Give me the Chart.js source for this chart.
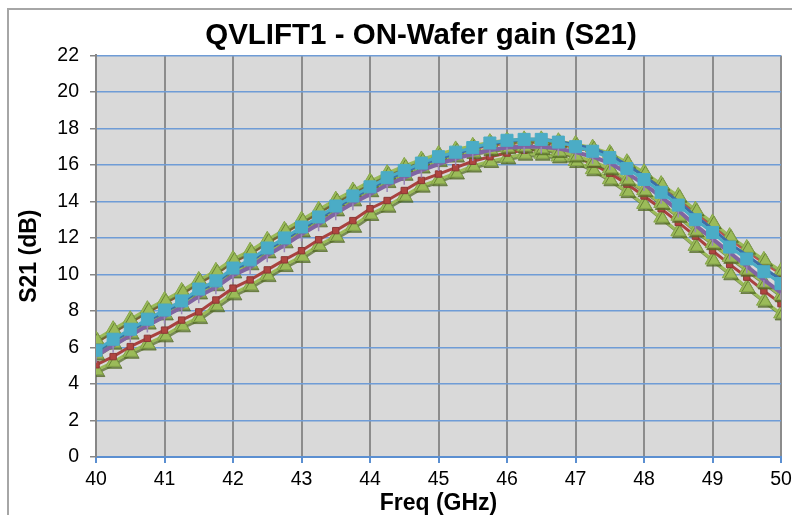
<!DOCTYPE html>
<html>
<head>
<meta charset="utf-8">
<script src="https://cdn.jsdelivr.net/npm/chart.js@4.4.0/dist/chart.umd.min.js"></script>
<style>
  html, body { margin: 0; padding: 0; background: #fff; overflow: hidden; }
  #frame { position: absolute; left: 7px; top: 8px; border: 2px solid #a6a6a6; border-bottom: none; width: 824px; height: 520px; }
  canvas { display: block; }
</style>
</head>
<body>
<div id="frame"><canvas id="gainChart" width="824" height="520" style="width:824px;height:520px"></canvas></div>
<script>
// frequency points (GHz)
const freq = [40, 40.25, 40.5, 40.75, 41, 41.25, 41.5, 41.75, 42, 42.25, 42.5, 42.75, 43, 43.25, 43.5, 43.75,
  44, 44.25, 44.5, 44.75, 45, 45.25, 45.5, 45.75, 46, 46.25, 46.5, 46.75, 47, 47.25, 47.5, 47.75,
  48, 48.25, 48.5, 48.75, 49, 49.25, 49.5, 49.75, 50];

// S21 (dB) per measured die
const cyanSq = [5.85, 6.45, 7.0, 7.55, 8.05, 8.55, 9.2, 9.65, 10.35, 10.8, 11.45, 12.0, 12.6, 13.15, 13.75, 14.3,
  14.8, 15.3, 15.7, 16.1, 16.45, 16.7, 16.95, 17.2, 17.35, 17.4, 17.4, 17.25, 17.0, 16.75, 16.4, 15.8,
  15.2, 14.5, 13.8, 13.0, 12.3, 11.5, 10.85, 10.15, 9.5];
const blueLn = [5.75, 6.35, 6.9, 7.45, 7.95, 8.45, 9.1, 9.55, 10.25, 10.7, 11.35, 11.9, 12.5, 13.05, 13.65, 14.2,
  14.7, 15.2, 15.6, 16.0, 16.35, 16.6, 16.9, 17.15, 17.3, 17.4, 17.4, 17.3, 17.1, 16.9, 16.55, 16.0,
  15.4, 14.7, 14.0, 13.2, 12.5, 11.7, 11.05, 10.35, 9.7];
const purpleLn = [5.55, 6.1, 6.65, 7.2, 7.7, 8.2, 8.8, 9.3, 9.95, 10.4, 11.05, 11.6, 12.2, 12.75, 13.35, 13.9,
  14.4, 14.9, 15.3, 15.7, 16.05, 16.35, 16.6, 16.8, 16.95, 17.0, 17.0, 16.9, 16.7, 16.45, 16.1, 15.55,
  14.95, 14.25, 13.5, 12.7, 11.95, 11.2, 10.45, 9.7, 9.0];
const greenTop = [6.45, 7.0, 7.55, 8.1, 8.6, 9.1, 9.7, 10.2, 10.85, 11.3, 11.9, 12.45, 13.0, 13.55, 14.1, 14.6,
  15.1, 15.55, 15.95, 16.3, 16.6, 16.85, 17.05, 17.25, 17.35, 17.4, 17.4, 17.3, 17.15, 16.95, 16.65, 16.15,
  15.6, 14.95, 14.3, 13.55, 12.85, 12.1, 11.45, 10.8, 10.2];
const redTop = [6.25, 6.8, 7.35, 7.9, 8.4, 8.9, 9.5, 10.0, 10.65, 11.1, 11.7, 12.25, 12.8, 13.35, 13.9, 14.4,
  14.9, 15.35, 15.75, 16.1, 16.4, 16.65, 16.85, 17.05, 17.15, 17.2, 17.2, 17.1, 16.95, 16.75, 16.45, 15.95,
  15.4, 14.75, 14.1, 13.35, 12.65, 11.9, 11.25, 10.6, 10.0];
const greenMid = [5.65, 6.25, 6.8, 7.35, 7.85, 8.35, 9.0, 9.45, 10.15, 10.6, 11.25, 11.8, 12.4, 12.95, 13.55, 14.1,
  14.6, 15.1, 15.5, 15.9, 16.25, 16.5, 16.7, 16.85, 16.95, 17.0, 16.9, 16.75, 16.5, 16.2, 15.8, 15.2,
  14.6, 13.9, 13.2, 12.4, 11.7, 10.95, 10.25, 9.55, 8.85];
const redLow = [5.05, 5.5, 6.05, 6.5, 6.95, 7.5, 7.95, 8.6, 9.25, 9.7, 10.25, 10.8, 11.3, 11.9, 12.4, 12.95,
  13.6, 14.05, 14.6, 15.15, 15.5, 15.85, 16.2, 16.45, 16.65, 16.8, 16.85, 16.75, 16.45, 16.05, 15.55, 14.95,
  14.3, 13.6, 12.85, 12.1, 11.3, 10.55, 9.85, 9.1, 8.4];
const greenLow = [4.75, 5.2, 5.75, 6.2, 6.65, 7.2, 7.65, 8.3, 8.95, 9.4, 9.95, 10.5, 11.0, 11.6, 12.1, 12.65,
  13.3, 13.75, 14.3, 14.85, 15.2, 15.57, 15.95, 16.2, 16.4, 16.6, 16.6, 16.45, 16.2, 15.75, 15.2, 14.55,
  13.85, 13.1, 12.35, 11.55, 10.8, 10.05, 9.3, 8.55, 7.85];

const pts = vals => freq.map((f, i) => ({ x: f, y: vals[i] }));
const font = "'Liberation Sans', Arial, sans-serif";

function greenTri(vals) {
  return {
    data: pts(vals), borderColor: '#9BBB59', borderWidth: 3, shadow: true,
    pointStyle: 'triangle', pointRadius: 8.5, pointBackgroundColor: '#9BBB59',
    pointBorderColor: '#86A64A', pointBorderWidth: 1
  };
}

const plotBg = {
  id: 'plotBg',
  beforeDraw(chart) {
    const { ctx, chartArea: a } = chart;
    ctx.save();
    ctx.fillStyle = '#D9D9D9';
    ctx.fillRect(a.left, a.top, a.right - a.left, a.bottom - a.top);
    ctx.restore();
  }
};

// darker offset edge under the triangle series, like the Excel marker look
const seriesShadow = {
  id: 'seriesShadow',
  beforeDatasetDraw(chart, args) {
    const ctx = chart.ctx;
    ctx.save();
    if (chart.data.datasets[args.index].shadow) {
      ctx.shadowColor = 'rgba(85, 110, 40, 0.75)';
      ctx.shadowOffsetX = 1.5;
      ctx.shadowOffsetY = 2;
      ctx.shadowBlur = 0.5;
    }
  },
  afterDatasetDraw(chart) {
    chart.ctx.restore();
  }
};

new Chart(document.getElementById('gainChart'), {
  type: 'line',
  data: {
    datasets: [
      { data: pts(cyanSq), borderColor: '#4BACC6', borderWidth: 3, pointStyle: 'rect', pointRadius: 8.5,
        pointBackgroundColor: '#4BACC6', pointBorderColor: '#4BACC6', pointBorderWidth: 1 },
      { data: pts(blueLn), borderColor: '#3C6FA8', borderWidth: 3, pointRadius: 0 },
      { data: pts(purpleLn), borderColor: '#8064A2', borderWidth: 4, pointStyle: 'dash', rotation: 90,
        pointRadius: 7, pointBorderColor: '#9A86B8', pointBorderWidth: 1.5 },
      greenTri(greenTop),
      { data: pts(redTop), borderColor: '#C0504D', borderWidth: 2, pointStyle: 'rect', pointRadius: 5,
        pointBackgroundColor: '#C0504D', pointBorderColor: '#8C3836', pointBorderWidth: 1 },
      greenTri(greenMid),
      { data: pts(redLow), borderColor: '#A8423F', borderWidth: 3, pointStyle: 'rect', pointRadius: 4.5,
        pointBackgroundColor: '#B04540', pointBorderColor: '#8C3836', pointBorderWidth: 1 },
      greenTri(greenLow)
    ]
  },
  options: {
    responsive: false,
    animation: false,
    layout: { padding: 0 },
    plugins: {
      legend: { display: false },
      tooltip: { enabled: false },
      title: {
        display: true, text: 'QVLIFT1 - ON-Wafer gain (S21)', color: '#000',
        font: { family: font, size: 29.5, weight: 'bold' }, padding: { top: 8, bottom: 2 }
      }
    },
    scales: {
      x: {
        type: 'linear', min: 40, max: 50,
        ticks: { stepSize: 1, color: '#000', padding: 5, font: { family: font, size: 19.5 } },
        grid: { color: '#8C8C8C', lineWidth: 2, tickColor: '#5B8FD1', tickLength: 6 },
        border: { color: '#5B8FD1', width: 2 },
        title: { display: true, text: 'Freq (GHz)', color: '#000', font: { family: font, size: 23, weight: 'bold' },
          padding: { top: 0, bottom: 13 } },
        afterFit: s => { s.height = 73; }
      },
      y: {
        min: 0, max: 22,
        ticks: { stepSize: 2, color: '#000', padding: 11, font: { family: font, size: 19.5 } },
        grid: { color: '#6F9CD6', lineWidth: 1.5, tickColor: '#868686', tickLength: 6 },
        border: { color: '#868686', width: 2 },
        title: { display: true, text: 'S21 (dB)', color: '#000', font: { family: font, size: 23, weight: 'bold' },
          padding: { top: 7, bottom: 0 } },
        afterFit: s => { s.width = 87; }
      },
      // empty right-hand margin of the chart frame
      yRight: {
        position: 'right', min: 0, max: 22,
        ticks: { display: false }, grid: { display: false }, border: { display: false },
        afterFit: s => { s.width = 52; }
      }
    }
  },
  plugins: [plotBg, seriesShadow]
});
</script>
</body>
</html>
